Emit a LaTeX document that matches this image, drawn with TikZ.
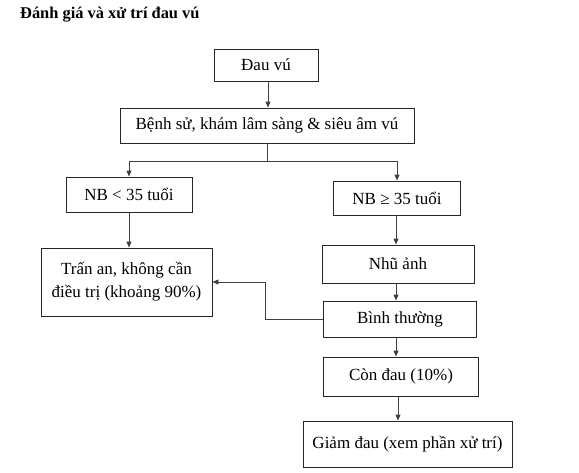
\documentclass[tikz,border=0pt]{standalone}
\usepackage{fontspec}
\setmainfont{Liberation Serif}
\usetikzlibrary{arrows.meta}
\begin{document}
\begin{tikzpicture}[x=1pt,y=-1pt,
  box/.style={draw=black!85,line width=0.9pt,inner sep=0pt,align=center,
    font=\fontsize{17}{23}\selectfont},
  arr/.style={draw=black!75,line width=0.9pt,-{Triangle[length=6pt,width=5pt]}},
  ln/.style={draw=black!75,line width=0.9pt}]
\useasboundingbox[fill=white] (0,0) rectangle (579,472);
\node[anchor=base west,inner sep=0pt,font=\bfseries\fontsize{16.4}{18}\selectfont] (title) at (20,18) {Đánh giá và xử trí đau vú};
\node[box,minimum width=104pt,minimum height=32pt] (dau) at (266,65) {Đau vú};
\node[box,minimum width=294pt,minimum height=35pt] (benh) at (267,125.5) {Bệnh sử, khám lâm sàng \& siêu âm vú};
\node[box,minimum width=126pt,minimum height=35pt] (nb1) at (129,194.5) {NB < 35 tuổi};
\node[box,minimum width=127pt,minimum height=34pt] (nb2) at (397,198) {NB ≥ 35 tuổi};
\node[box,minimum width=171pt,minimum height=68pt] (tran) at (126.5,282) {Trấn an, không cần\\điều trị (khoảng 90\%)};
\node[box,minimum width=152pt,minimum height=38pt] (nhu) at (398,264) {Nhũ ảnh};
\node[box,minimum width=153pt,minimum height=36pt] (binh) at (400,319) {Bình thường};
\node[box,minimum width=155pt,minimum height=39pt] (con) at (401,376.5) {Còn đau (10\%)};
\node[box,minimum width=209pt,minimum height=46pt] (giam) at (407.5,444) {Giảm đau (xem phần xử trí)};
\coordinate (split) at (267,161);
\draw[arr] (dau.south -| 268,0) -- (benh.north -| 268,0);
\draw[ln] (benh.south -| split) -- (split);
\draw[arr] (split) -| (nb1.north);
\draw[arr] (split) -| (nb2.north);
\draw[arr] (nb1.south) -- (nb1.south |- tran.north);
\draw[arr] (nb2.south -| 396,0) -- (nhu.north -| 396,0);
\draw[arr] (nhu.south -| 396,0) -- (binh.north -| 396,0);
\draw[arr] (binh.south -| 396,0) -- (con.north -| 396,0);
\draw[arr] (con.south -| 398,0) -- (giam.north -| 398,0);
\draw[arr] (binh.west) -- ++(-58,0) |- (tran.east);
\end{tikzpicture}
\end{document}
